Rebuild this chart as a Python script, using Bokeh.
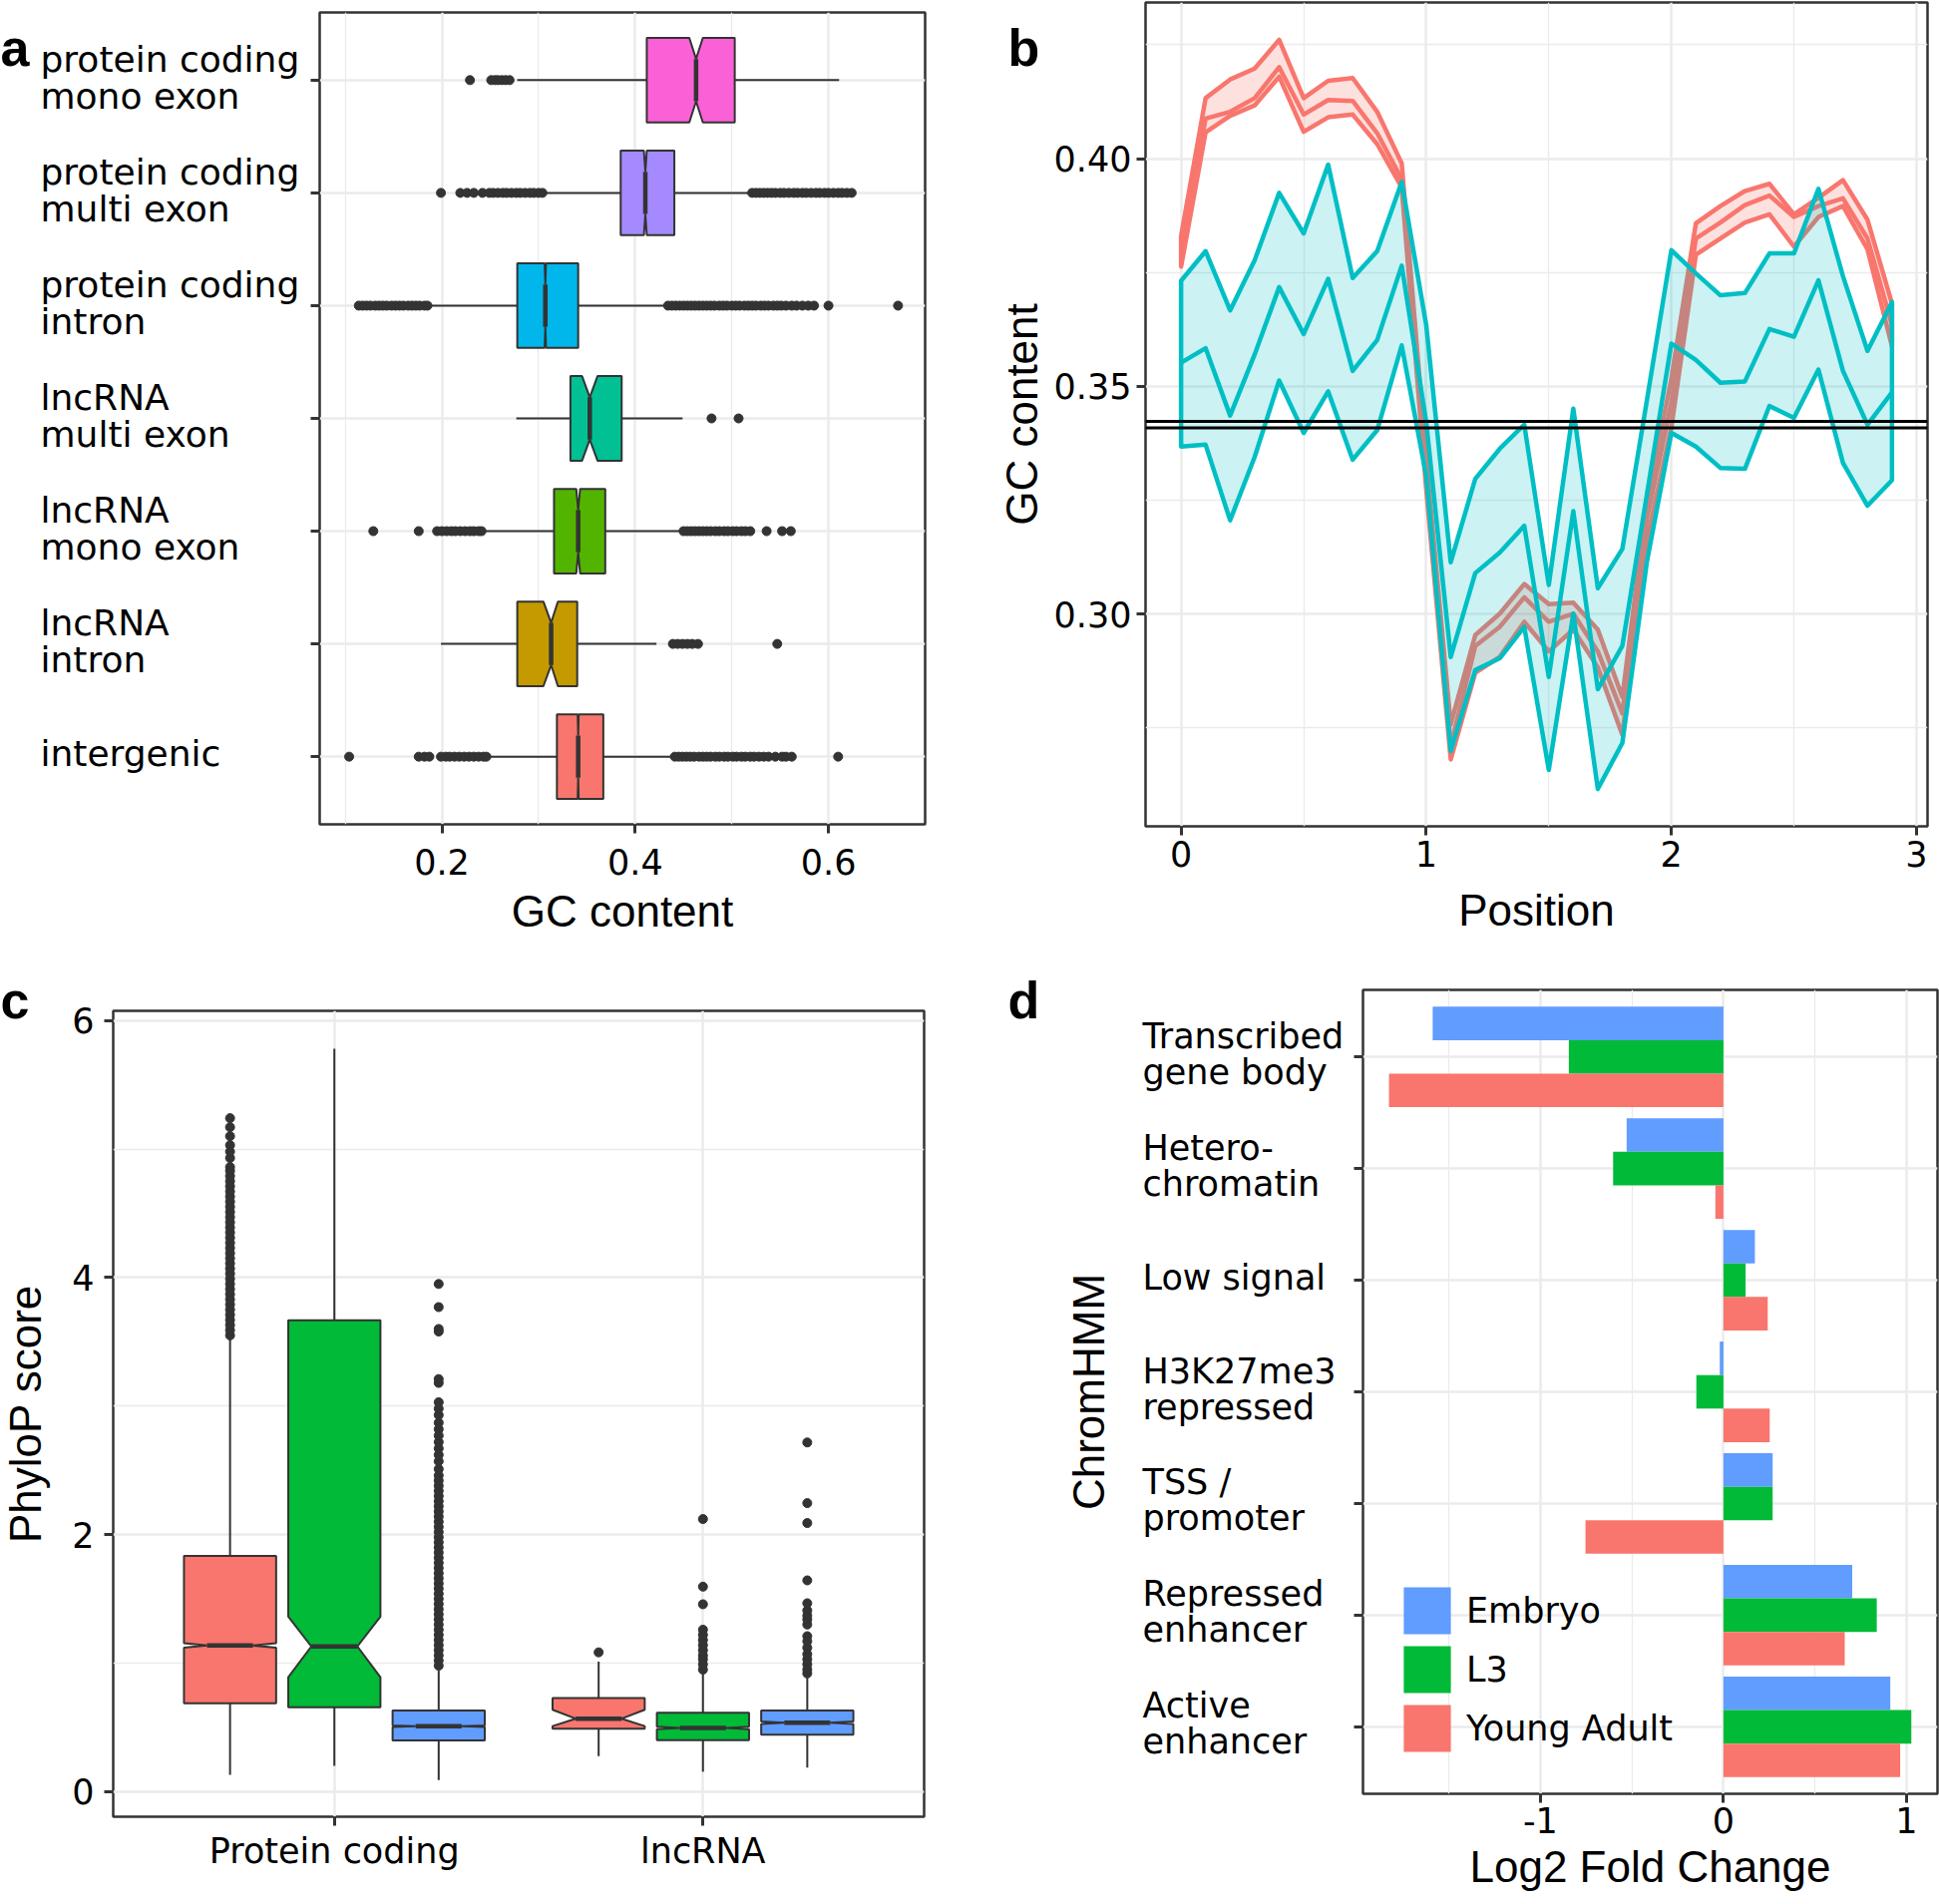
import math
from bokeh.plotting import figure
from bokeh.models import Range1d, FixedTicker, Span, Legend, LegendItem
from bokeh.core.properties import value
from bokeh.layouts import row, column
from bokeh.embed import file_html
from bokeh.resources import INLINE

# ---------------- Panel a data (rows bottom -> top) ----------------
a_categories = ["intergenic", "lncRNA\nintron", "lncRNA\nmono exon", "lncRNA\nmulti exon",
                "protein coding\nintron", "protein coding\nmulti exon", "protein coding\nmono exon"]
a_colors = ["#F8766D", "#C49A00", "#53B400", "#00C094", "#00B6EB", "#A58AFF", "#FB61D7"]
a_q1 = [0.319, 0.278, 0.316, 0.333, 0.278, 0.385, 0.412]
a_med = [0.341, 0.313, 0.341, 0.353, 0.307, 0.4105, 0.463]
a_q3 = [0.367, 0.340, 0.369, 0.386, 0.341, 0.4405, 0.503]
a_wlo = [0.250, 0.199, 0.244, 0.277, 0.188, 0.307, 0.278]
a_whi = [0.438, 0.422, 0.447, 0.449, 0.431, 0.518, 0.611]
a_nlo = [0.3405, 0.305, 0.339, 0.345, 0.3063, 0.409, 0.456]
a_nhi = [0.3415, 0.320, 0.343, 0.361, 0.3077, 0.412, 0.470]
a_out = [
    [0.104, 0.176, 0.182, 0.187, 0.199, 0.204, 0.208, 0.213, 0.218, 0.223, 0.228, 0.233, 0.238, 0.243, 0.246,
     0.441, 0.445, 0.449, 0.453, 0.457, 0.461, 0.466, 0.470, 0.474, 0.478, 0.483, 0.487, 0.492, 0.496, 0.501,
     0.505, 0.510, 0.514, 0.519, 0.523, 0.528, 0.533, 0.538, 0.545, 0.552, 0.556, 0.562, 0.610],
    [0.439, 0.444, 0.449, 0.454, 0.459, 0.465, 0.547],
    [0.129, 0.176, 0.195, 0.200, 0.205, 0.210, 0.214, 0.219, 0.224, 0.229, 0.233, 0.238, 0.241,
     0.450, 0.454, 0.458, 0.462, 0.466, 0.470, 0.474, 0.478, 0.483, 0.487, 0.492, 0.496, 0.501, 0.505,
     0.510, 0.514, 0.519, 0.536, 0.552, 0.561],
    [0.479, 0.507],
    [0.114, 0.118, 0.122, 0.126, 0.131, 0.135, 0.139, 0.143, 0.148, 0.152, 0.156, 0.160, 0.165, 0.169,
     0.173, 0.177, 0.182, 0.185,
     0.434, 0.438, 0.442, 0.446, 0.450, 0.454, 0.458, 0.462, 0.466, 0.470, 0.474, 0.478, 0.482, 0.487,
     0.491, 0.495, 0.500, 0.504, 0.508, 0.513, 0.517, 0.521, 0.525, 0.530, 0.534, 0.538, 0.543, 0.547,
     0.551, 0.556, 0.562, 0.567, 0.573, 0.579, 0.585, 0.600, 0.672],
    [0.199, 0.219, 0.226, 0.233, 0.242, 0.249, 0.253, 0.258, 0.263, 0.267, 0.272, 0.277, 0.281, 0.286,
     0.291, 0.295, 0.300, 0.304,
     0.521, 0.525, 0.529, 0.533, 0.537, 0.541, 0.545, 0.550, 0.554, 0.559, 0.564, 0.568, 0.573, 0.577,
     0.582, 0.587, 0.591, 0.596, 0.600, 0.605, 0.610, 0.614, 0.619, 0.624],
    [0.229, 0.251, 0.255, 0.258, 0.262, 0.266, 0.270],
]
a_xticks = [0.2, 0.4, 0.6]

# ---------------- Panel b data ----------------
b_pos = [0.0, 0.1, 0.2, 0.3, 0.4, 0.5, 0.6, 0.7, 0.8, 0.9, 1.0, 1.1, 1.2, 1.3, 1.4,
         1.5, 1.6, 1.7, 1.8, 1.9, 2.0, 2.1, 2.2, 2.3, 2.4, 2.5, 2.6, 2.7, 2.8, 2.9]
red_upper = [0.383, 0.4133, 0.4174, 0.4198, 0.4261, 0.4133, 0.4171, 0.4177, 0.4103, 0.399,
             0.334, 0.2758, 0.2954, 0.3001, 0.3066, 0.3022, 0.3025, 0.2966, 0.2818, 0.3244,
             0.3517, 0.3858, 0.3896, 0.3929, 0.3945, 0.3878, 0.3914, 0.3953, 0.3866, 0.3682]
red_mid = [0.380, 0.4088, 0.4103, 0.4133, 0.4201, 0.4097, 0.4129, 0.4127, 0.4056, 0.3955,
           0.3303, 0.2711, 0.293, 0.2972, 0.3037, 0.2983, 0.3001, 0.2918, 0.2782, 0.3209,
           0.3463, 0.3825, 0.386, 0.3898, 0.3919, 0.3872, 0.3896, 0.3913, 0.3825, 0.3635]
red_lower = [0.3763, 0.4058, 0.4094, 0.4117, 0.418, 0.4059, 0.4091, 0.4097, 0.4032, 0.3937,
             0.3274, 0.2681, 0.2871, 0.2906, 0.2983, 0.2918, 0.2966, 0.2883, 0.2735, 0.3161,
             0.341, 0.3789, 0.3825, 0.386, 0.3878, 0.3807, 0.3872, 0.3896, 0.3801, 0.3588]
teal_upper = [0.3732, 0.3797, 0.3667, 0.3777, 0.3925, 0.3836, 0.3987, 0.3738, 0.3797, 0.3949,
              0.3635, 0.3114, 0.3297, 0.3363, 0.3416, 0.3064, 0.3451, 0.3057, 0.3143, 0.3469,
              0.3799, 0.3748, 0.370, 0.3705, 0.3792, 0.3792, 0.3934, 0.3742, 0.3578, 0.3685]
teal_mid = [0.3552, 0.3584, 0.3436, 0.357, 0.3718, 0.3615, 0.3736, 0.3534, 0.3602, 0.3765,
            0.3422, 0.2906, 0.309, 0.3135, 0.3194, 0.2862, 0.3226, 0.2835, 0.293, 0.3262,
            0.3594, 0.3558, 0.3508, 0.3511, 0.3626, 0.3609, 0.3733, 0.3534, 0.3416, 0.3487]
teal_lower = [0.3368, 0.3372, 0.3206, 0.3345, 0.3513, 0.3398, 0.3489, 0.3339, 0.3404, 0.359,
              0.3303, 0.2699, 0.2877, 0.2903, 0.2972, 0.2658, 0.3001, 0.2616, 0.2717, 0.3114,
              0.3398, 0.3368, 0.3321, 0.3319, 0.3457, 0.3431, 0.3537, 0.3332, 0.3238, 0.3294]
b_baselines = [0.3423, 0.3409]
b_yticks = [0.30, 0.35, 0.40]

# ---------------- Panel c data ----------------
c_groups = ["Protein coding", "lncRNA"]
c_colors = ["#F8766D", "#00BA38", "#619CFF"]
# order: PC-red, PC-green, PC-blue, lnc-red, lnc-green, lnc-blue
c_q1 = [0.687, 0.657, 0.398, 0.490, 0.400, 0.444]
c_med = [1.137, 1.130, 0.509, 0.568, 0.495, 0.537]
c_q3 = [1.834, 3.668, 0.632, 0.728, 0.614, 0.632]
c_wlo = [0.131, 0.201, 0.090, 0.276, 0.155, 0.188]
c_whi = [3.525, 5.780, 0.944, 1.012, 0.921, 0.890]
c_nlo = [1.120, 0.890, 0.503, 0.510, 0.485, 0.527]
c_nhi = [1.155, 1.362, 0.515, 0.637, 0.505, 0.547]
c_out = [
    [3.55, 3.59, 3.63, 3.67, 3.71, 3.75, 3.79, 3.83, 3.87, 3.91, 3.95, 3.99, 4.03, 4.07, 4.11, 4.15,
     4.19, 4.23, 4.27, 4.31, 4.35, 4.39, 4.43, 4.47, 4.51, 4.55, 4.59, 4.63, 4.67, 4.71, 4.75, 4.79,
     4.83, 4.86, 4.93, 4.98, 5.03, 5.10, 5.17, 5.24],
    [],
    [0.98, 1.02, 1.06, 1.10, 1.14, 1.18, 1.22, 1.26, 1.30, 1.34, 1.38, 1.42, 1.46, 1.50, 1.54, 1.58,
     1.62, 1.66, 1.70, 1.74, 1.78, 1.82, 1.86, 1.90, 1.94, 1.98, 2.02, 2.06, 2.10, 2.14, 2.18, 2.22,
     2.26, 2.30, 2.34, 2.38, 2.42, 2.46, 2.51, 2.57, 2.62, 2.67, 2.72, 2.77, 2.82, 2.87, 2.93, 2.98,
     3.03, 3.18, 3.21, 3.58, 3.60, 3.77, 3.95],
    [1.084],
    [0.95, 0.99, 1.03, 1.06, 1.10, 1.14, 1.18, 1.22, 1.26, 1.458, 1.595, 2.121],
    [0.92, 0.95, 0.99, 1.03, 1.07, 1.12, 1.17, 1.21, 1.30, 1.34, 1.37, 1.41, 1.466, 1.644, 2.09,
     2.245, 2.717],
]
c_yticks = [0, 2, 4, 6]

# ---------------- Panel d data (rows bottom -> top) ----------------
d_categories = ["Active\nenhancer", "Repressed\nenhancer", "TSS /\npromoter", "H3K27me3\nrepressed",
                "Low signal", "Hetero-\nchromatin", "Transcribed\ngene body"]
d_series = ["Embryo", "L3", "Young Adult"]
d_colors = ["#619CFF", "#00BA38", "#F8766D"]
embryo = [0.912, 0.704, 0.269, -0.020, 0.172, -0.529, -1.589]
l3 = [1.027, 0.838, 0.269, -0.148, 0.121, -0.603, -0.845]
young_adult = [0.966, 0.663, -0.754, 0.253, 0.242, -0.044, -1.828]
d_xticks = [-1, 0, 1]

# ---------------- styling helpers ----------------
TICK_FONT = "DejaVu Sans"
TITLE_FONT = "Liberation Sans"
GRID = "#EBEBEB"
DARK = "#333333"
TOP_H = 960
BOT_H = 947
FIG = dict(output_backend="svg", toolbar_location=None, title=None, frame_align=False)


def style(p):
    p.outline_line_color = DARK
    p.outline_line_width = 2.5
    p.background_fill_color = "white"
    p.border_fill_color = "white"
    for ax in p.axis:
        ax.axis_line_color = None
        ax.major_tick_line_color = DARK
        ax.major_tick_line_width = 3
        ax.major_tick_out = 9
        ax.major_tick_in = 0
        ax.minor_tick_line_color = None
        ax.major_label_text_font = TICK_FONT
        ax.major_label_text_font_size = "35px"
        ax.major_label_text_color = "black"
        ax.axis_label_text_font = TITLE_FONT
        ax.axis_label_text_font_size = "44px"
        ax.axis_label_text_font_style = "normal"
        ax.axis_label_text_color = "black"
    for g in p.grid:
        g.grid_line_color = GRID
        g.grid_line_width = 2.5
        g.minor_grid_line_color = GRID
        g.minor_grid_line_width = 1.3


def strip(width, height, y_range, top, bottom):
    s = figure(width=width, height=height, x_range=Range1d(0, width), y_range=y_range,
               x_axis_location=None, y_axis_location=None,
               min_border_left=0, min_border_right=0, min_border_top=top, min_border_bottom=bottom, **FIG)
    s.outline_line_color = None
    s.grid.visible = False
    s.background_fill_color = "white"
    s.border_fill_color = "white"
    return s


def letter(s, ch, x, y, yo):
    s.text(x=[x], y=[y], text=[ch], y_offset=yo, text_font=value(TITLE_FONT),
           text_font_size=value("52px"), text_font_style="bold", text_color="black",
           text_align="left", text_baseline="alphabetic")


def cat_labels(s, cats, x, up, down, single, size, **kw):
    lx, ly, lt, lo = [], [], [], []
    for i, name in enumerate(cats):
        lines = name.split("\n")
        offs = [single] if len(lines) == 1 else [up, down]
        for line, off in zip(lines, offs):
            lx.append(x)
            ly.append(i + 1)
            lt.append(line)
            lo.append(off)
    s.text(x=lx, y=ly, text=lt, y_offset=lo, text_font=value(TICK_FONT), text_font_size=value(size),
           text_color="black", text_align="left", text_baseline="middle", **kw)


def vtitle(s, txt, x, y, **kw):
    s.text(x=[x], y=[y], text=[txt], angle=math.pi / 2, text_font=value(TITLE_FONT),
           text_font_size=value("44px"), text_color="black", text_align="center", text_baseline="middle",
           **kw)


# ---------------- Panel a ----------------
ax0, ax1 = 0.0735, 0.70
pa = figure(width=668, height=TOP_H, x_range=Range1d(ax0, ax1), y_range=Range1d(0.4, 7.6),
            min_border_left=20, min_border_right=41, min_border_top=12, min_border_bottom=134, **FIG)
rows_a = list(range(1, len(a_categories) + 1))
pa.xaxis.ticker = FixedTicker(ticks=a_xticks, minor_ticks=[0.1, 0.3, 0.5])
pa.xaxis.major_label_overrides = {0.2: "0.2", 0.4: "0.4", 0.6: "0.6"}
pa.yaxis.ticker = FixedTicker(ticks=rows_a)
pa.yaxis.major_label_overrides = {r: "" for r in rows_a}
pa.yaxis.major_label_standoff = 0
pa.xaxis.axis_label = "GC content"
style(pa)
pa.xaxis.major_label_standoff = 15
pa.xaxis.axis_label_standoff = 9

h = 0.375
xs, ys = [], []
for r, q1, md, q3, nl, nh in zip(rows_a, a_q1, a_med, a_q3, a_nlo, a_nhi):
    xs.append([q1, nl, md, nh, q3, q3, nh, md, nl, q1])
    ys.append([r - h, r - h, r - h / 2, r - h, r - h, r + h, r + h, r + h / 2, r + h, r + h])
pa.segment(x0=a_wlo, y0=rows_a, x1=a_q1, y1=rows_a, line_color=DARK, line_width=2)
pa.segment(x0=a_q3, y0=rows_a, x1=a_whi, y1=rows_a, line_color=DARK, line_width=2)
pa.patches(xs, ys, fill_color=a_colors, line_color=DARK, line_width=2)
pa.segment(x0=a_med, y0=[r - h / 2 for r in rows_a], x1=a_med, y1=[r + h / 2 for r in rows_a],
           line_color=DARK, line_width=4.5)
ox, oy = [], []
for r, vals in zip(rows_a, a_out):
    ox += vals
    oy += [r] * len(vals)
pa.scatter(ox, oy, size=9, fill_color=DARK, line_color=DARK)

sa = strip(300, TOP_H, pa.y_range, 12, 134)
cat_labels(sa, a_categories, 40, -21, 16, -3, "36px")
letter(sa, "a", 0, 7.6, 35)

# ---------------- Panel b ----------------
pb = figure(width=896, height=TOP_H, x_range=Range1d(-0.145, 3.045), y_range=Range1d(0.2534, 0.4343),
            min_border_left=100, min_border_right=12, min_border_top=2, min_border_bottom=132, **FIG)
pb.xaxis.ticker = FixedTicker(ticks=[0, 1, 2, 3], minor_ticks=[0.5, 1.5, 2.5])
pb.yaxis.ticker = FixedTicker(ticks=b_yticks, minor_ticks=[0.275, 0.325, 0.375, 0.425])
pb.yaxis.major_label_overrides = {0.30: "0.30", 0.35: "0.35", 0.40: "0.40"}
pb.xaxis.axis_label = "Position"
style(pb)
pb.xaxis.major_label_standoff = 5
pb.xaxis.axis_label_standoff = 16
pb.yaxis.major_label_standoff = 5

for col, up, mid, lo, alpha in [("#F8766D", red_upper, red_mid, red_lower, 0.22),
                                ("#00BFC4", teal_upper, teal_mid, teal_lower, 0.2)]:
    pb.patch(b_pos + b_pos[::-1], up + lo[::-1], fill_color=col, fill_alpha=alpha,
             line_color=col, line_width=4.5, line_join="round")
    pb.line(b_pos, mid, line_color=col, line_width=4.5, line_join="round")
for v in b_baselines:
    pb.add_layout(Span(location=v, dimension="width", line_color="black", line_width=3))

sb = strip(80, TOP_H, pb.y_range, 2, 132)
letter(sb, "b", 42, 0.4343, 45)
vtitle(sb, "GC content", 56, (0.2534 + 0.4343) / 2)

# ---------------- Panel c ----------------
pc = figure(width=908, height=BOT_H, x_range=Range1d(0.4, 2.6), y_range=Range1d(-0.195, 6.075),
            min_border_left=53, min_border_right=42, min_border_top=53, min_border_bottom=86, **FIG)
pc.xaxis.ticker = FixedTicker(ticks=[1, 2])
pc.xaxis.major_label_overrides = {1: c_groups[0], 2: c_groups[1]}
pc.yaxis.ticker = FixedTicker(ticks=c_yticks, minor_ticks=[1, 3, 5])
style(pc)
pc.xaxis.major_label_standoff = 5
pc.yaxis.major_label_standoff = 10

dodge = [-0.283, 0.0, 0.283]
w = 0.125
c_x = [g + d for g in (1, 2) for d in dodge]
c_fill = c_colors * 2
xs, ys = [], []
for x, q1, md, q3, nl, nh in zip(c_x, c_q1, c_med, c_q3, c_nlo, c_nhi):
    xs.append([x - w, x - w, x - w / 2, x - w, x - w, x + w, x + w, x + w / 2, x + w, x + w])
    ys.append([q1, nl, md, nh, q3, q3, nh, md, nl, q1])
pc.segment(x0=c_x, y0=c_wlo, x1=c_x, y1=c_q1, line_color=DARK, line_width=2)
pc.segment(x0=c_x, y0=c_q3, x1=c_x, y1=c_whi, line_color=DARK, line_width=2)
pc.patches(xs, ys, fill_color=c_fill, line_color=DARK, line_width=2)
pc.segment(x0=[x - w / 2 for x in c_x], y0=c_med, x1=[x + w / 2 for x in c_x], y1=c_med,
           line_color=DARK, line_width=4.5)
ox, oy = [], []
for x, vals in zip(c_x, c_out):
    ox += [x] * len(vals)
    oy += vals
pc.scatter(ox, oy, size=9, fill_color=DARK, line_color=DARK)

sc = strip(60, BOT_H, Range1d(BOT_H, 0), 0, 0)
letter(sc, "c", 0, 42, 0)
vtitle(sc, "PhyloP score", 25, 457)

# ---------------- Panel d ----------------
D_TOP, D_BOT = 32, 109
pdd = figure(width=588, height=BOT_H, x_range=Range1d(-1.97, 1.17), y_range=Range1d(0.4, 7.6),
             min_border_left=10, min_border_right=2, min_border_top=D_TOP, min_border_bottom=D_BOT, **FIG)
rows_d = list(range(1, len(d_categories) + 1))
pdd.xaxis.ticker = FixedTicker(ticks=d_xticks, minor_ticks=[-1.5, -0.5, 0.5])
pdd.xaxis.major_label_overrides = {-1: "-1", 0: "0", 1: "1"}
pdd.yaxis.ticker = FixedTicker(ticks=rows_d)
pdd.yaxis.major_label_overrides = {r: "" for r in rows_d}
pdd.yaxis.major_label_standoff = 0
pdd.xaxis.axis_label = "Log2 Fold Change"
style(pdd)
pdd.xaxis.major_label_standoff = 4
pdd.xaxis.axis_label_standoff = 6

renderers = []
for k, (vals, col) in enumerate(zip([embryo, l3, young_adult], d_colors)):
    off = 0.3 - 0.3 * k
    r = pdd.hbar(y=[rr + off for rr in rows_d], right=vals, left=0, height=0.3,
                 fill_color=col, line_color=None)
    renderers.append(r)
legend = Legend(items=[LegendItem(label=s, renderers=[r]) for s, r in zip(d_series, renderers)],
                location=(35, 36), orientation="vertical", glyph_width=59, glyph_height=59,
                label_height=59, spacing=-8, padding=0, margin=0, label_standoff=10,
                label_text_font=TICK_FONT, label_text_font_size="35px", label_text_color="black",
                background_fill_alpha=0, border_line_alpha=0)
pdd.add_layout(legend)

# label strip for d spans the full height; a second range maps rows exactly like pdd's frame
sd = strip(388, BOT_H, Range1d(BOT_H, 0), 0, 0)
k_px = (pdd.y_range.end - pdd.y_range.start) / (BOT_H - D_TOP - D_BOT)
sd.extra_y_ranges = {"rows": Range1d(pdd.y_range.start - D_BOT * k_px, pdd.y_range.end + D_TOP * k_px)}
cat_labels(sd, d_categories, 177, -21, 15, -3, "35px", y_range_name="rows")
vtitle(sd, "ChromHMM", 123, 4.0, y_range_name="rows")
letter(sd, "d", 42, 42, 0)

layout = column(row(sa, pa, sb, pb), row(sc, pc, sd, pdd))
open("out.html", "w").write(file_html(layout, INLINE))
